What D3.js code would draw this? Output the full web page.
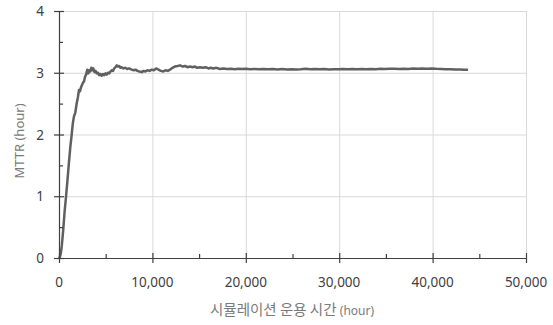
<!DOCTYPE html>
<html>
<head>
<meta charset="utf-8">
<script src="https://cdn.jsdelivr.net/npm/d3@7/dist/d3.min.js"></script>
<style>
  html, body { margin: 0; padding: 0; background: #fff; }
  svg { display: block; }
</style>
</head>
<body>
<svg id="chart" width="553" height="325"></svg>
<script>
// Axis ticks
const xMajorTicks = [0, 10000, 20000, 30000, 40000, 50000];
const xMinorTicks = [5000, 15000, 25000, 35000, 45000];
const yMajorTicks = [0, 1, 2, 3, 4];
const yMinorTicks = [0.5, 1.5, 2.5, 3.5];

// Axis titles
const xTitleMain = "시뮬레이션 운용 시간";
const xTitleUnit = "(hour)";
const yTitle = "MTTR (hour)";

// Running MTTR over simulated operating time: [hour, MTTR]
const mttrSeries = [
  [0, 0.00], [100, 0.02], [200, 0.08], [300, 0.20], [450, 0.45], [600, 0.75],
  [750, 0.99], [900, 1.25], [1050, 1.52], [1200, 1.78], [1360, 2.00], [1480, 2.18],
  [1600, 2.29], [1750, 2.36], [1900, 2.51], [2020, 2.60], [2140, 2.72], [2250, 2.70],
  [2350, 2.76], [2460, 2.80], [2570, 2.84], [2680, 2.86], [2780, 2.93], [2900, 2.97],
  [3030, 3.05], [3140, 2.99], [3240, 3.04], [3350, 3.02], [3460, 3.08], [3570, 3.04],
  [3670, 3.07], [3800, 3.01], [3920, 3.03], [4040, 2.99], [4180, 3.00], [4300, 2.96],
  [4430, 2.98], [4570, 2.95], [4700, 2.98], [4840, 2.96], [4970, 2.99], [5110, 2.97],
  [5240, 3.00], [5380, 2.99], [5510, 3.02], [5640, 3.04], [5780, 3.03], [5910, 3.07],
  [6050, 3.09], [6180, 3.12], [6310, 3.10], [6450, 3.11], [6580, 3.08], [6710, 3.09],
  [6900, 3.07], [7100, 3.08], [7300, 3.06], [7500, 3.07], [7780, 3.05], [8000, 3.04],
  [8200, 3.05], [8400, 3.03], [8600, 3.02], [8850, 3.01], [9050, 3.03], [9250, 3.02],
  [9450, 3.04], [9700, 3.03], [9930, 3.05], [10150, 3.04], [10400, 3.07], [10650, 3.05],
  [10900, 3.03], [11170, 3.02], [11400, 3.04], [11650, 3.03], [11880, 3.05], [12150, 3.08],
  [12400, 3.10], [12700, 3.11], [12960, 3.12], [13250, 3.10], [13500, 3.11], [13750, 3.09],
  [14030, 3.10], [14300, 3.09], [14550, 3.10], [14800, 3.08], [15100, 3.09], [15400, 3.08],
  [15700, 3.09], [16000, 3.07], [16250, 3.08], [16500, 3.07], [16850, 3.08], [17240, 3.06],
  [17600, 3.07], [18000, 3.06], [18400, 3.065], [18800, 3.058], [19200, 3.066], [19600, 3.06],
  [20000, 3.064], [20450, 3.057], [20900, 3.062], [21400, 3.055], [21900, 3.061], [22400, 3.056],
  [22900, 3.06], [23400, 3.054], [23900, 3.059], [24400, 3.053], [24900, 3.058], [25400, 3.052],
  [25900, 3.057], [26400, 3.065], [26900, 3.058], [27400, 3.061], [27900, 3.055], [28400, 3.06],
  [28900, 3.054], [29400, 3.058], [29900, 3.055], [30400, 3.06], [30900, 3.056], [31400, 3.061],
  [31900, 3.057], [32400, 3.06], [32900, 3.055], [33400, 3.062], [33900, 3.058], [34400, 3.064],
  [34900, 3.059], [35400, 3.063], [35900, 3.066], [36400, 3.06], [36900, 3.065], [37400, 3.062],
  [37900, 3.068], [38400, 3.064], [38900, 3.069], [39400, 3.066], [39900, 3.068], [40400, 3.063],
  [40900, 3.06], [41400, 3.057], [41900, 3.055], [42400, 3.052], [42900, 3.054], [43400, 3.05],
  [43800, 3.05]
];

const svg = d3.select("#chart");
const x = d3.scaleLinear().domain([0, 50000]).range([59, 526]);
const y = d3.scaleLinear().domain([0, 4]).range([258, 11]);

const axisColor = "#3f3f3f";
const gridColor = "#d9d9d9";
const labelFont = "'Noto Sans', 'Open Sans', sans-serif";

// Gridlines
const grid = svg.append("g");
grid.selectAll("line.h").data(yMajorTicks.filter(d => d > 0)).join("line")
  .attr("x1", x(0)).attr("x2", x(50000))
  .attr("y1", d => y(d) + 0.5).attr("y2", d => y(d) + 0.5)
  .attr("stroke", gridColor).attr("stroke-width", 1);
grid.selectAll("line.v").data(xMajorTicks.filter(d => d > 0)).join("line")
  .attr("x1", d => x(d) + 0.5).attr("x2", d => x(d) + 0.5)
  .attr("y1", y(0)).attr("y2", y(4))
  .attr("stroke", gridColor).attr("stroke-width", 1);

// MTTR curve
const line = d3.line().x(d => x(d[0])).y(d => y(d[1]));
svg.append("path")
  .datum(mttrSeries)
  .attr("d", line)
  .attr("fill", "none")
  .attr("stroke", "#606060")
  .attr("stroke-width", 2.5)
  .attr("stroke-linejoin", "round");

// Axes
const axes = svg.append("g").attr("stroke", axisColor).attr("stroke-width", 1.2);
axes.append("line").attr("x1", x(0) + 0.5).attr("x2", x(0) + 0.5).attr("y1", y(4)).attr("y2", y(0));
axes.append("line").attr("x1", x(0)).attr("x2", x(50000)).attr("y1", y(0) + 0.5).attr("y2", y(0) + 0.5);

axes.selectAll("line.ymaj").data(yMajorTicks).join("line")
  .attr("x1", x(0) - 5).attr("x2", x(0) + 5)
  .attr("y1", d => y(d) + 0.5).attr("y2", d => y(d) + 0.5);
axes.selectAll("line.ymin").data(yMinorTicks).join("line")
  .attr("x1", x(0)).attr("x2", x(0) + 4)
  .attr("y1", d => y(d) + 0.5).attr("y2", d => y(d) + 0.5);
axes.selectAll("line.xmaj").data(xMajorTicks).join("line")
  .attr("x1", d => x(d) + 0.5).attr("x2", d => x(d) + 0.5)
  .attr("y1", y(0) - 5).attr("y2", y(0) + 5);
axes.selectAll("line.xmin").data(xMinorTicks).join("line")
  .attr("x1", d => x(d) + 0.5).attr("x2", d => x(d) + 0.5)
  .attr("y1", y(0) - 4).attr("y2", y(0));

// Tick labels
const fmt = d3.format(",");
svg.append("g").selectAll("text").data(yMajorTicks).join("text")
  .attr("x", 44).attr("y", d => y(d) + 5)
  .attr("text-anchor", "end")
  .attr("font-family", labelFont).attr("font-size", 13.5).attr("fill", "#404040")
  .text(d => d);
svg.append("g").selectAll("text").data(xMajorTicks).join("text")
  .attr("x", d => x(d)).attr("y", 287)
  .attr("text-anchor", "middle")
  .attr("font-family", labelFont).attr("font-size", 13.5).attr("fill", "#404040")
  .text(d => fmt(d));

// Axis titles
const xt = svg.append("text")
  .attr("x", 292).attr("y", 315)
  .attr("text-anchor", "middle")
  .attr("font-family", "'Noto Sans CJK KR', sans-serif")
  .attr("font-size", 14.5).attr("fill", "#7a7a7a");
xt.append("tspan").text(xTitleMain + " ");
xt.append("tspan").attr("font-size", 12).attr("font-family", labelFont).text(xTitleUnit);

svg.append("text")
  .attr("transform", "translate(24,141) rotate(-90)")
  .attr("text-anchor", "middle")
  .attr("font-family", labelFont)
  .attr("font-size", 13).attr("fill", "#7a7a7a")
  .text(yTitle);
</script>
</body>
</html>
